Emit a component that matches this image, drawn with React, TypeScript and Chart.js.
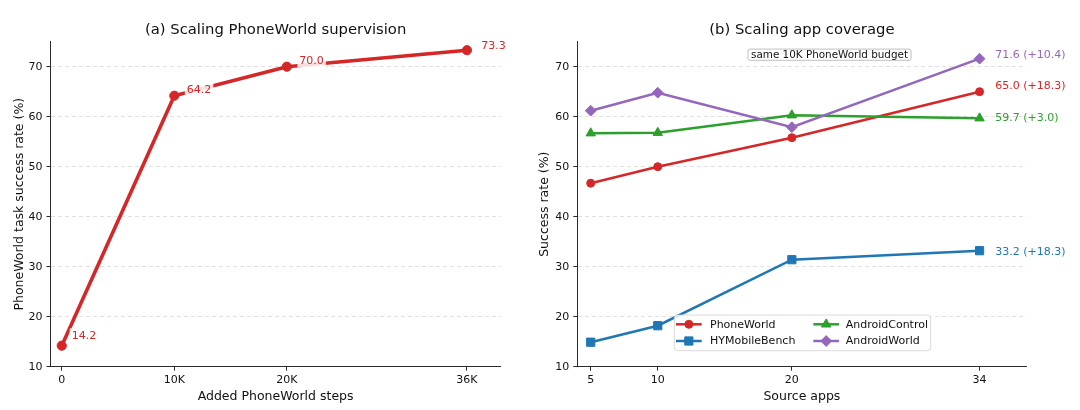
import React, { useEffect, useRef } from 'react';
import { Chart, registerables } from 'chart.js';

Chart.register(...registerables);

// ---- Panel (a): scaling PhoneWorld supervision ----
const addedSteps = [0, 10000, 20000, 36000];
const addedStepLabels = ['0', '10K', '20K', '36K'];
const phoneWorldBySteps = [14.2, 64.2, 70.0, 73.3];

// ---- Panel (b): scaling app coverage ----
const sourceApps = [5, 10, 20, 34];
const phoneWorldByApps = [46.7, 50.0, 55.8, 65.0];
const hyMobileBenchByApps = [14.9, 18.2, 31.4, 33.2];
const androidControlByApps = [56.7, 56.8, 60.3, 59.7];
const androidWorldByApps = [61.2, 64.8, 57.9, 71.6];
const seriesNames = ['PhoneWorld', 'HYMobileBench', 'AndroidControl', 'AndroidWorld'];

const rateTicks = [10, 20, 30, 40, 50, 60, 70];

const FONT = "'DejaVu Sans', 'Liberation Sans', sans-serif";
const RED = '#d62728';
const BLUE = '#1f77b4';
const GREEN = '#2ca02c';
const PURPLE = '#9467bd';
const AXIS = '#2b2b2b';
const GRID = '#d9d9d9';
const TEXT = '#111111';

type Shape = 'circle' | 'rect' | 'triangle' | 'rectRot';

function drawMarker(ctx: CanvasRenderingContext2D, shape: Shape, x: number, y: number, r: number, color: string) {
  ctx.save();
  ctx.fillStyle = color;
  ctx.strokeStyle = color;
  ctx.lineWidth = 1;
  ctx.beginPath();
  if (shape === 'circle') {
    ctx.arc(x, y, r, 0, Math.PI * 2);
  } else if (shape === 'rect') {
    const s = r * Math.SQRT1_2;
    ctx.rect(x - s, y - s, 2 * s, 2 * s);
  } else if (shape === 'triangle') {
    let a = 0;
    ctx.moveTo(x + Math.sin(a) * r, y - Math.cos(a) * r);
    a += (2 * Math.PI) / 3;
    ctx.lineTo(x + Math.sin(a) * r, y - Math.cos(a) * r);
    a += (2 * Math.PI) / 3;
    ctx.lineTo(x + Math.sin(a) * r, y - Math.cos(a) * r);
    ctx.closePath();
  } else {
    ctx.moveTo(x - r, y);
    ctx.lineTo(x, y - r);
    ctx.lineTo(x + r, y);
    ctx.lineTo(x, y + r);
    ctx.closePath();
  }
  ctx.fill();
  ctx.stroke();
  ctx.restore();
}

function drawTitles(ctx: CanvasRenderingContext2D, chart: Chart, title: string, xTitle: string, yTitle: string, yTitleX: number) {
  const { left, right, top, bottom } = chart.chartArea;
  const cx = (left + right) / 2;
  ctx.save();
  ctx.fillStyle = TEXT;
  ctx.textAlign = 'center';
  ctx.textBaseline = 'alphabetic';
  ctx.font = `14.8px ${FONT}`;
  ctx.fillText(title, cx, 34);
  ctx.font = `12.5px ${FONT}`;
  ctx.fillText(xTitle, cx, 399.5);
  ctx.translate(yTitleX, (top + bottom) / 2);
  ctx.rotate(-Math.PI / 2);
  ctx.fillText(yTitle, 0, 0);
  ctx.restore();
}

function rateAxis(leftWidth: number) {
  return {
    type: 'linear' as const,
    min: 10,
    max: 75,
    afterBuildTicks: (s: any) => {
      s.ticks = rateTicks.map((v) => ({ value: v }));
    },
    afterFit: (s: any) => {
      s.width = leftWidth;
    },
    ticks: {
      color: TEXT,
      font: { family: FONT, size: 11 },
      padding: 4,
      callback: (v: any) => String(v),
    },
    grid: {
      color: (c: any) => (c.tick && c.tick.value === rateTicks[0] ? 'rgba(0,0,0,0)' : GRID),
      lineWidth: 0.8,
      drawTicks: true,
      tickLength: 4,
      tickColor: AXIS,
      tickWidth: 1,
    },
    border: { color: AXIS, width: 1, dash: [4, 3] },
  };
}

function xAxis(min: number, max: number, values: number[], labels: string[]) {
  return {
    type: 'linear' as const,
    min,
    max,
    afterBuildTicks: (s: any) => {
      s.ticks = values.map((v) => ({ value: v }));
    },
    afterFit: (s: any) => {
      s.height = 43.3;
    },
    ticks: {
      color: TEXT,
      font: { family: FONT, size: 11 },
      padding: 3,
      maxRotation: 0,
      autoSkip: false,
      callback: (v: any) => {
        const i = values.indexOf(Number(v));
        return i >= 0 ? labels[i] : '';
      },
    },
    grid: {
      drawOnChartArea: false,
      drawTicks: true,
      tickLength: 4,
      tickColor: AXIS,
      tickWidth: 1,
    },
    border: { color: AXIS, width: 1 },
  };
}

// Value labels next to each point of panel (a), on a white box
const stepLabelOffsets: [number, number][] = [
  [10, -10.3],
  [12.5, -6.4],
  [12.5, -6.4],
  [14.4, -4.5],
];

const panelAOverlay = {
  id: 'panelAOverlay',
  afterDraw(chart: Chart) {
    const ctx = chart.ctx;
    drawTitles(ctx, chart, '(a) Scaling PhoneWorld supervision', 'Added PhoneWorld steps', 'PhoneWorld task success rate (%)', 22.5);
    const meta = chart.getDatasetMeta(0);
    ctx.save();
    ctx.font = `11px ${FONT}`;
    ctx.textBaseline = 'middle';
    ctx.textAlign = 'left';
    meta.data.forEach((pt: any, i: number) => {
      const txt = phoneWorldBySteps[i].toFixed(1);
      const [dx, dy] = stepLabelOffsets[i];
      const w = ctx.measureText(txt).width;
      const x = pt.x + dx;
      const y = pt.y + dy;
      ctx.fillStyle = 'rgba(255,255,255,0.85)';
      ctx.fillRect(x - 2, y - 7, w + 4, 14);
      ctx.fillStyle = RED;
      ctx.fillText(txt, x, y + 0.5);
    });
    ctx.restore();
  },
};

const seriesColors = [RED, BLUE, GREEN, PURPLE];
const seriesShapes: Shape[] = ['circle', 'rect', 'triangle', 'rectRot'];
const seriesRadii = [4.0, 5.8, 5.4, 5.4];
const seriesData = [phoneWorldByApps, hyMobileBenchByApps, androidControlByApps, androidWorldByApps];
const endLabelDy = [-5.7, 1.3, -0.9, -3.7];

const panelBOverlay = {
  id: 'panelBOverlay',
  afterDraw(chart: Chart) {
    const ctx = chart.ctx;
    drawTitles(ctx, chart, '(b) Scaling app coverage', 'Source apps', 'Success rate (%)', 28);

    // end-of-line labels: final value and gain over the smallest app set
    ctx.save();
    ctx.font = `11px ${FONT}`;
    ctx.textBaseline = 'middle';
    ctx.textAlign = 'left';
    seriesData.forEach((vals, si) => {
      const meta = chart.getDatasetMeta(si);
      const pt: any = meta.data[vals.length - 1];
      const last = vals[vals.length - 1];
      const gain = last - vals[0];
      const txt = `${last.toFixed(1)} (+${gain.toFixed(1)})`;
      ctx.fillStyle = seriesColors[si];
      ctx.fillText(txt, pt.x + 15.7, pt.y + endLabelDy[si] + 0.5);
    });
    ctx.restore();

    // budget note
    ctx.save();
    ctx.font = `10.4px ${FONT}`;
    const note = 'same 10K PhoneWorld budget';
    const nw = ctx.measureText(note).width;
    const ncx = 309.5;
    const ncy = 54.7;
    ctx.beginPath();
    ctx.roundRect(ncx - nw / 2 - 3, ncy - 5.6, nw + 6, 11.2, 2);
    ctx.fillStyle = '#ffffff';
    ctx.fill();
    ctx.strokeStyle = '#b0b0b0';
    ctx.lineWidth = 0.8;
    ctx.stroke();
    ctx.fillStyle = TEXT;
    ctx.textAlign = 'center';
    ctx.textBaseline = 'middle';
    ctx.fillText(note, ncx, ncy + 0.5);
    ctx.restore();

    // legend, two columns
    ctx.save();
    ctx.beginPath();
    ctx.roundRect(154.3, 315, 256.4, 35.7, 3);
    ctx.fillStyle = 'rgba(255,255,255,0.85)';
    ctx.fill();
    ctx.strokeStyle = '#d0d0d0';
    ctx.lineWidth = 0.8;
    ctx.stroke();
    const rows = [324.3, 341];
    const cols = [
      { h0: 156, h1: 181.7, tx: 190 },
      { h0: 293.3, h1: 319, tx: 325.7 },
    ];
    ctx.font = `11px ${FONT}`;
    ctx.textBaseline = 'middle';
    ctx.textAlign = 'left';
    seriesNames.forEach((name, si) => {
      const col = cols[Math.floor(si / 2)];
      const y = rows[si % 2];
      ctx.strokeStyle = seriesColors[si];
      ctx.lineWidth = 2.5;
      ctx.beginPath();
      ctx.moveTo(col.h0, y);
      ctx.lineTo(col.h1, y);
      ctx.stroke();
      drawMarker(ctx, seriesShapes[si], (col.h0 + col.h1) / 2, y, seriesRadii[si], seriesColors[si]);
      ctx.fillStyle = TEXT;
      ctx.fillText(name, col.tx, y + 0.5);
    });
    ctx.restore();
  },
};

function PanelA() {
  const ref = useRef<HTMLCanvasElement>(null);
  useEffect(() => {
    const chart = new Chart(ref.current as HTMLCanvasElement, {
      type: 'line',
      data: {
        datasets: [
          {
            label: 'PhoneWorld',
            data: addedSteps.map((x, i) => ({ x, y: phoneWorldBySteps[i] })),
            borderColor: RED,
            backgroundColor: RED,
            borderWidth: 3.6,
            pointStyle: 'circle',
            pointRadius: 4.6,
            pointBorderWidth: 1,
            pointBorderColor: RED,
            pointBackgroundColor: RED,
            tension: 0,
          },
        ],
      },
      options: {
        animation: false,
        responsive: false,
        maintainAspectRatio: false,
        events: [],
        layout: { padding: { top: 41.7, right: 19.3, bottom: 0, left: 0 } },
        plugins: { legend: { display: false }, tooltip: { enabled: false }, title: { display: false } },
        scales: {
          x: xAxis(-1000, 39000, addedSteps, addedStepLabels) as any,
          y: rateAxis(50.5) as any,
        },
      },
      plugins: [panelAOverlay as any],
    });
    return () => chart.destroy();
  }, []);
  return (
    <canvas
      ref={ref}
      width={520}
      height={410}
      style={{ position: 'absolute', left: 0, top: 0, width: 520, height: 410 }}
    />
  );
}

function PanelB() {
  const ref = useRef<HTMLCanvasElement>(null);
  useEffect(() => {
    const chart = new Chart(ref.current as HTMLCanvasElement, {
      type: 'line',
      data: {
        datasets: seriesData.map((vals, si) => ({
          label: seriesNames[si],
          data: sourceApps.map((x, i) => ({ x, y: vals[i] })),
          borderColor: seriesColors[si],
          backgroundColor: seriesColors[si],
          borderWidth: 2.5,
          pointStyle: seriesShapes[si],
          pointRadius: seriesRadii[si],
          pointBorderWidth: 1,
          pointBorderColor: seriesColors[si],
          pointBackgroundColor: seriesColors[si],
          tension: 0,
          order: seriesData.length - si,
        })),
      },
      options: {
        animation: false,
        responsive: false,
        maintainAspectRatio: false,
        events: [],
        layout: { padding: { top: 41.7, right: 53.5, bottom: 0, left: 0 } },
        plugins: { legend: { display: false }, tooltip: { enabled: false }, title: { display: false } },
        scales: {
          x: xAxis(4, 37.5, sourceApps, sourceApps.map(String)) as any,
          y: rateAxis(57.3) as any,
        },
      },
      plugins: [panelBOverlay as any],
    });
    return () => chart.destroy();
  }, []);
  return (
    <canvas
      ref={ref}
      width={560}
      height={410}
      style={{ position: 'absolute', left: 520, top: 0, width: 560, height: 410 }}
    />
  );
}

export default function App() {
  return (
    <div style={{ position: 'fixed', left: 0, top: 0, width: 1080, height: 410, background: '#ffffff', overflow: 'hidden' }}>
      <PanelA />
      <PanelB />
    </div>
  );
}
